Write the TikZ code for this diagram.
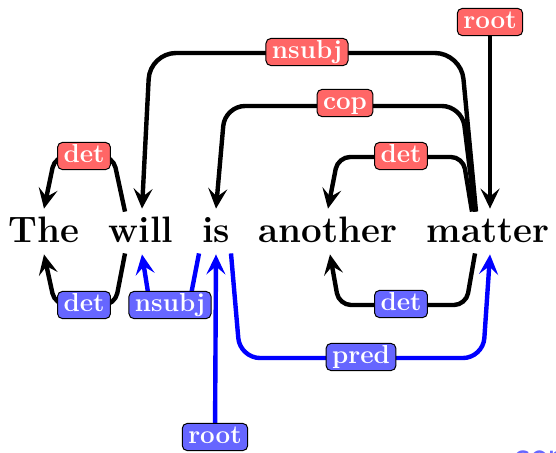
\documentclass[tikz,border=0pt]{standalone}
\usepackage{fontspec}
\usetikzlibrary{arrows.meta,calc}
\tikzset{
  word/.style={font=\fontsize{18.4}{22}\selectfont\bfseries, text height=14.5pt, text depth=4pt, inner ysep=2pt, inner xsep=0pt},
  lab/.style={draw=black, line width=0.5pt, rounded corners=2.5pt, text=white,
    font=\fontsize{13}{15}\selectfont\bfseries, text height=9pt, text depth=2.6pt,
    inner xsep=3pt, inner ysep=1pt},
  redlab/.style={lab, fill=red!60},
  bluelab/.style={lab, fill=blue!60},
  dep/.style={line width=2.2pt, -{Stealth[length=10pt,width=9.5pt,inset=4pt]}},
}
\begin{document}
\begin{tikzpicture}[x=0.5pt,y=-0.5pt]
\useasboundingbox (0,0) rectangle (556,452);

% sentence
\node[word, anchor=base] (w1) at (44,242)  {The};
\node[word, anchor=base] (w2) at (141,242) {will};
\node[word, anchor=base] (w3) at (216,242) {is};
\node[word, anchor=base] (w4) at (328,242) {another};
\node[word, anchor=base] (w5) at (488,242) {matter};

% label positions
\coordinate (pDetA) at (84,156);
\coordinate (pNsubjA) at (307,52);
\coordinate (pCopA) at (345,103);
\coordinate (pDetB) at (401,156);
\coordinate (pRootA) at (490,22);
\coordinate (pDetC) at (84,305);
\coordinate (pNsubjB) at (170,305);
\coordinate (pRootB) at (215,437);
\coordinate (pPred) at (361,357);
\coordinate (pDetD) at (401,304);

% upper analysis (black)
\draw[dep, rounded corners=13pt] ($(w5.north)+(-12,3)$) -- (461,53) -- (150,53) -- ($(w2.north)+(1,0)$);
\draw[dep, rounded corners=10pt] ($(w5.north)+(-13,3)$) -- (462,106) -- (225,106) -- (w3.north);
\draw[dep, rounded corners=6pt] ($(w5.north)+(-16,3)$) -- (463,157) -- (338,157) -- (w4.north);
\draw[dep, rounded corners=6pt] ($(w2.north)+(-16,3)$) -- (113,156) -- (55,156) -- (w1.north);
\draw[dep] (pRootA) -- ($(w5.north)+(2,0)$);

% lower analysis
\draw[dep, rounded corners=6pt] ($(w2.south)+(-16,-1)$) -- (115,305) -- (55,305) -- (w1.south);
\draw[dep, rounded corners=6pt] ($(w5.south)+(-13,-1)$) -- (466,305) -- (339,305) -- ($(w4.south)+(2,0)$);
\draw[dep, blue, rounded corners=6pt] ($(w3.south)+(-17,-1)$) -- (189,305) -- (150,305) -- ($(w2.south)+(1,0)$);
\draw[dep, blue] (pRootB) -- (w3.south);
\draw[dep, blue, rounded corners=10pt] ($(w3.south)+(15,-1)$) -- (240,358) -- (483,358) -- ($(w5.south)+(2,0)$);

% labels
\node[redlab] (lDetA) at (pDetA) {det};
\node[redlab] (lNsubjA) at (pNsubjA) {nsubj};
\node[redlab] (lCopA) at (pCopA) {cop};
\node[redlab] (lDetB) at (pDetB) {det};
\node[redlab] (lRootA) at (pRootA) {root};
\node[bluelab] (lDetC) at (pDetC) {det};
\node[bluelab] (lNsubjB) at (pNsubjB) {nsubj};
\node[bluelab] (lRootB) at (pRootB) {root};
\node[bluelab] (lPred) at (pPred) {pred};
\node[bluelab] (lDetD) at (pDetD) {det};

% caption running off the lower edge
\node[anchor=base west, inner sep=0pt, text=blue!60, font=\fontsize{20}{24}\selectfont\sffamily] (cap) at (513,468) {cor};
\end{tikzpicture}
\end{document}
